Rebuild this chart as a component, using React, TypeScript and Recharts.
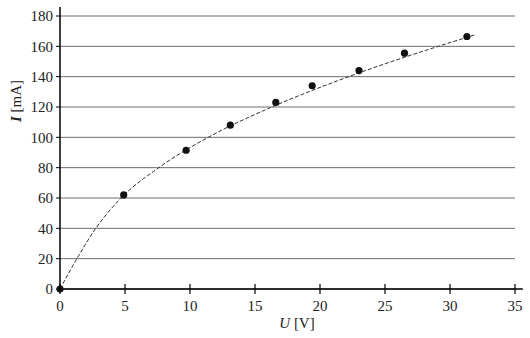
import React from 'react';
import {
  ComposedChart,
  Line,
  Scatter,
  XAxis,
  YAxis,
  CartesianGrid,
  ReferenceLine,
  Label
} from 'recharts';

// measured points
const voltage = [0, 4.9, 9.7, 13.1, 16.6, 19.4, 23.0, 26.5, 31.3];
const current = [0, 62, 91.5, 108, 123, 134, 144, 155.5, 166.5];

// fitted curve
const fitVoltage = [0, 1.3, 2.75, 4.7, 7.6, 11.4, 16.3, 22.2, 29.1, 31.9];
const fitCurrent = [0, 20, 40, 60, 80, 100, 120, 140, 160, 167.5];

const xTicks = [0, 5, 10, 15, 20, 25, 30, 35];
const yTicks = [0, 20, 40, 60, 80, 100, 120, 140, 160, 180];

const points = voltage.map((u, i) => ({ u, i: current[i] }));
const curve = fitVoltage.map((u, i) => ({ u, i: fitCurrent[i] }));

const FONT = "'Liberation Serif', 'DejaVu Serif', serif";
const textStyle = { fontFamily: FONT, fontSize: 15 };

const XTick = (props: any) => {
  const { x, y, payload } = props;
  return (
    <g>
      <line x1={x} x2={x} y1={y - 5} y2={y + 5} stroke="#000" strokeWidth={1.2} />
      <text x={x} y={y + 22} textAnchor="middle" style={textStyle} fill="#222">
        {payload.value}
      </text>
    </g>
  );
};

const Dot = (props: any) => {
  const { cx, cy } = props;
  return <circle cx={cx} cy={cy} r={3.6} fill="#111" />;
};

const App: React.FC = () => {
  return (
    <div style={{ position: 'absolute', left: 0, top: 0, background: '#fff', fontFamily: FONT }}>
      <ComposedChart
        width={530}
        height={338}
        margin={{ top: 16, right: 15, left: 5, bottom: 9 }}
        style={{ fontFamily: FONT }}
      >
        <CartesianGrid horizontal vertical={false} stroke="#6a6a6a" strokeWidth={1} />
        <XAxis
          dataKey="u"
          type="number"
          domain={[0, 35]}
          ticks={xTicks}
          axisLine={false}
          tickLine={false}
          tickSize={0}
          tickMargin={0}
          tick={<XTick />}
          height={40}
        >
          <Label
            content={(p: any) => {
              const vb = p.viewBox;
              return (
                <text x={vb.x + 237} y={vb.y + 39} textAnchor="middle" style={{ fontFamily: FONT, fontSize: 15 }} fill="#222">
                  <tspan fontStyle="italic">U</tspan>
                  <tspan> [V]</tspan>
                </text>
              );
            }}
          />
        </XAxis>
        <YAxis
          dataKey="i"
          type="number"
          domain={[0, 180]}
          ticks={yTicks}
          axisLine={false}
          tickSize={4}
          tickMargin={3}
          stroke="#000"
          width={55}
          tick={{ style: textStyle, fill: '#222' }}
        >
          <Label
            content={(p: any) => {
              const vb = p.viewBox;
              const cx = vb.x + 11;
              const cy = 101;
              return (
                <text
                  x={cx}
                  y={cy}
                  textAnchor="middle"
                  dominantBaseline="central"
                  transform={`rotate(-90 ${cx} ${cy})`}
                  style={{ fontFamily: FONT, fontSize: 15 }}
                  fill="#222"
                >
                  <tspan fontStyle="italic" fontWeight="bold">I</tspan>
                  <tspan> [mA]</tspan>
                </text>
              );
            }}
          />
        </YAxis>
        <ReferenceLine
          segment={[{ x: 0, y: 0 }, { x: 35.6, y: 0 }]}
          stroke="#000"
          strokeWidth={1.5}
          ifOverflow="visible"
        />
        <ReferenceLine
          segment={[{ x: 0, y: 0 }, { x: 0, y: 186 }]}
          stroke="#000"
          strokeWidth={1.5}
          ifOverflow="visible"
        />
        <Line
          data={curve}
          dataKey="i"
          type="monotone"
          stroke="#333"
          strokeWidth={1}
          strokeDasharray="4 2"
          dot={false}
          activeDot={false}
          isAnimationActive={false}
        />
        <Scatter data={points} dataKey="i" shape={<Dot />} isAnimationActive={false} />
      </ComposedChart>
    </div>
  );
};

export default App;
